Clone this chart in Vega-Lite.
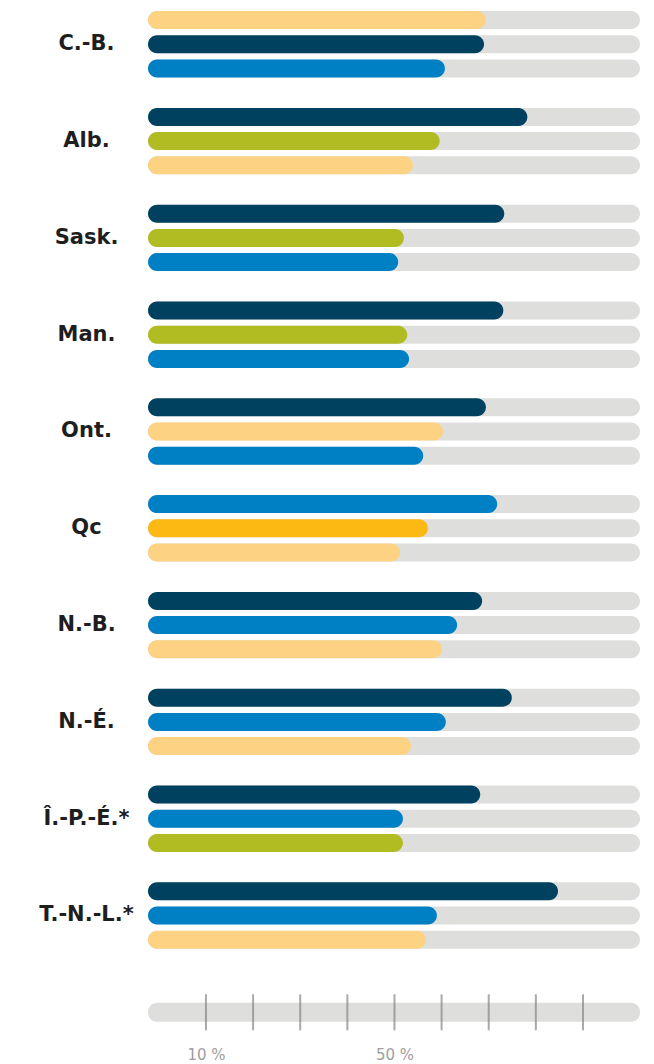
{
  "$schema": "https://vega.github.io/schema/vega-lite/v6.json",
  "width": 492,
  "height": 1016.4,
  "padding": {"left": 0, "top": 8, "right": 14, "bottom": 0},
  "background": "white",
  "config": {"view": {"stroke": null}},
  "datasets": {
    "bars": [
      {"prov": "C.-B.", "row": "C.-B.|1", "serie": "D", "value": 69.4},
      {"prov": "C.-B.", "row": "C.-B.|2", "serie": "A", "value": 69.0},
      {"prov": "C.-B.", "row": "C.-B.|3", "serie": "B", "value": 60.7},
      {"prov": "Alb.", "row": "Alb.|1", "serie": "A", "value": 78.2},
      {"prov": "Alb.", "row": "Alb.|2", "serie": "C", "value": 59.6},
      {"prov": "Alb.", "row": "Alb.|3", "serie": "D", "value": 53.9},
      {"prov": "Sask.", "row": "Sask.|1", "serie": "A", "value": 73.3},
      {"prov": "Sask.", "row": "Sask.|2", "serie": "C", "value": 52.0},
      {"prov": "Sask.", "row": "Sask.|3", "serie": "B", "value": 50.8},
      {"prov": "Man.", "row": "Man.|1", "serie": "A", "value": 73.1},
      {"prov": "Man.", "row": "Man.|2", "serie": "C", "value": 52.7},
      {"prov": "Man.", "row": "Man.|3", "serie": "B", "value": 53.1},
      {"prov": "Ont.", "row": "Ont.|1", "serie": "A", "value": 69.4},
      {"prov": "Ont.", "row": "Ont.|2", "serie": "D", "value": 60.3},
      {"prov": "Ont.", "row": "Ont.|3", "serie": "B", "value": 56.1},
      {"prov": "Qc", "row": "Qc|1", "serie": "B", "value": 71.8},
      {"prov": "Qc", "row": "Qc|2", "serie": "E", "value": 57.1},
      {"prov": "Qc", "row": "Qc|3", "serie": "D", "value": 51.2},
      {"prov": "N.-B.", "row": "N.-B.|1", "serie": "A", "value": 68.6},
      {"prov": "N.-B.", "row": "N.-B.|2", "serie": "B", "value": 63.3},
      {"prov": "N.-B.", "row": "N.-B.|3", "serie": "D", "value": 60.1},
      {"prov": "N.-É.", "row": "N.-É.|1", "serie": "A", "value": 74.9},
      {"prov": "N.-É.", "row": "N.-É.|2", "serie": "B", "value": 60.9},
      {"prov": "N.-É.", "row": "N.-É.|3", "serie": "D", "value": 53.5},
      {"prov": "Î.-P.-É.*", "row": "Î.-P.-É.*|1", "serie": "A", "value": 68.2},
      {"prov": "Î.-P.-É.*", "row": "Î.-P.-É.*|2", "serie": "B", "value": 51.8},
      {"prov": "Î.-P.-É.*", "row": "Î.-P.-É.*|3", "serie": "C", "value": 51.8},
      {"prov": "T.-N.-L.*", "row": "T.-N.-L.*|1", "serie": "A", "value": 84.7},
      {"prov": "T.-N.-L.*", "row": "T.-N.-L.*|2", "serie": "B", "value": 59.0},
      {"prov": "T.-N.-L.*", "row": "T.-N.-L.*|3", "serie": "D", "value": 56.7}
    ],
    "ticks": [
      {"row": "axe|piste", "tick": 10},
      {"row": "axe|piste", "tick": 20},
      {"row": "axe|piste", "tick": 30},
      {"row": "axe|piste", "tick": 40},
      {"row": "axe|piste", "tick": 50},
      {"row": "axe|piste", "tick": 60},
      {"row": "axe|piste", "tick": 70},
      {"row": "axe|piste", "tick": 80},
      {"row": "axe|piste", "tick": 90}
    ],
    "axisTrack": [{"row": "axe|piste"}]
  },
  "layer": [
    {
      "data": {"name": "bars"},
      "mark": {"type": "bar", "cornerRadius": 9, "size": 18, "color": "#dededd"},
      "encoding": {
        "y": {"field": "row", "type": "nominal"},
        "x": {"datum": -2.3, "type": "quantitative"},
        "x2": {"datum": 102.1}
      }
    },
    {
      "data": {"name": "axisTrack"},
      "mark": {"type": "bar", "cornerRadius": 9, "size": 19, "color": "#dededd"},
      "encoding": {
        "y": {"field": "row", "type": "nominal"},
        "x": {"datum": -2.3, "type": "quantitative"},
        "x2": {"datum": 102.1}
      }
    },
    {
      "data": {"name": "bars"},
      "mark": {"type": "bar", "cornerRadius": 9, "size": 18},
      "encoding": {
        "y": {"field": "row", "type": "nominal"},
        "x": {"field": "value", "type": "quantitative"},
        "x2": {"datum": -2.3},
        "color": {
          "field": "serie", "type": "nominal", "legend": null,
          "scale": {"domain": ["A", "B", "C", "D", "E"], "range": ["#00415f", "#0080c4", "#b0bc22", "#fdd383", "#fdb913"]}
        }
      }
    },
    {
      "data": {"name": "ticks"},
      "mark": {"type": "tick", "orient": "vertical", "size": 36, "thickness": 2, "color": "#858585"},
      "encoding": {
        "y": {"field": "row", "type": "nominal"},
        "x": {"field": "tick", "type": "quantitative"}
      }
    }
  ],
  "resolve": {"scale": {"x": "shared", "y": "shared"}},
  "encoding": {
    "y": {
      "field": "row", "type": "nominal",
      "scale": {
        "domain": [
          "C.-B.|1", "C.-B.|2", "C.-B.|3", "C.-B.|gap",
          "Alb.|1", "Alb.|2", "Alb.|3", "Alb.|gap",
          "Sask.|1", "Sask.|2", "Sask.|3", "Sask.|gap",
          "Man.|1", "Man.|2", "Man.|3", "Man.|gap",
          "Ont.|1", "Ont.|2", "Ont.|3", "Ont.|gap",
          "Qc|1", "Qc|2", "Qc|3", "Qc|gap",
          "N.-B.|1", "N.-B.|2", "N.-B.|3", "N.-B.|gap",
          "N.-É.|1", "N.-É.|2", "N.-É.|3", "N.-É.|gap",
          "Î.-P.-É.*|1", "Î.-P.-É.*|2", "Î.-P.-É.*|3", "Î.-P.-É.*|gap",
          "T.-N.-L.*|1", "T.-N.-L.*|2", "T.-N.-L.*|3", "T.-N.-L.*|gap",
          "axe|vide", "axe|piste"
        ],
        "paddingInner": 0, "paddingOuter": 0
      },
      "axis": {
        "title": null, "domain": false, "ticks": false, "tickSize": 0, "grid": false,
        "labelExpr": "split(datum.value, '|')[1] == '2' ? split(datum.value, '|')[0] : ''",
        "labelAlign": "center", "labelBaseline": "middle", "labelPadding": 62,
        "labelFont": "DejaVu Sans", "labelFontWeight": "bold", "labelFontSize": 21,
        "labelColor": "#1e1e1e", "labelOverlap": false, "labelLimit": 0,
        "minExtent": 148, "maxExtent": 148
      }
    },
    "x": {
      "type": "quantitative",
      "scale": {"domain": [-2.3, 102.1], "nice": false, "zero": false},
      "axis": {
        "title": null, "domain": false, "ticks": false, "tickSize": 0, "grid": false,
        "values": [10, 50],
        "labelExpr": "datum.value + ' %'",
        "labelFont": "DejaVu Sans", "labelFontSize": 15, "labelColor": "#9d9d9d",
        "labelPadding": 23, "labelBaseline": "top"
      }
    }
  }
}
